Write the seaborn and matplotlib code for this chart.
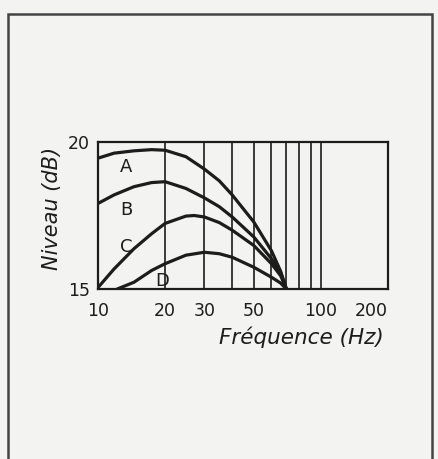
import pandas as pd
import matplotlib.pyplot as plt
import seaborn as sns
from matplotlib.patches import Rectangle

# values (Hz, dB)
freq_a = [10, 11.8, 14.5, 17.4, 20, 24.8, 30, 35, 40, 50, 60, 66, 70]
level_a = [19.45, 19.62, 19.70, 19.74, 19.72, 19.50, 19.08, 18.68, 18.20, 17.28, 16.30, 15.60, 15.0]

freq_b = [10, 11.8, 14.5, 17.4, 20, 24.8, 30, 35, 40, 50, 60, 66, 70]
level_b = [17.91, 18.20, 18.48, 18.62, 18.65, 18.42, 18.10, 17.80, 17.45, 16.77, 16.03, 15.55, 15.0]

freq_c = [10, 11.8, 14.5, 17.4, 20, 24.8, 27, 30, 35, 40, 50, 60, 66, 70]
level_c = [15.05, 15.68, 16.37, 16.88, 17.23, 17.48, 17.50, 17.45, 17.26, 17.00, 16.48, 15.86, 15.45, 15.0]

freq_d = [12.2, 14.5, 17.4, 20, 24.8, 30, 35, 40, 50, 60, 66, 70]
level_d = [15.0, 15.23, 15.63, 15.86, 16.15, 16.25, 16.20, 16.08, 15.74, 15.40, 15.20, 15.0]

curve_names = ['A', 'B', 'C', 'D']
label_freq = [12.5, 12.6, 12.5, 18.0]
label_level = [19.16, 17.68, 16.42, 15.28]

grid_freqs = [20, 30, 40, 50, 60, 70, 80, 90, 100]
xtick_vals = [10, 20, 30, 50, 100, 200]
ytick_vals = [15, 20]

ink = '#1c1c1c'
grid_ink = '#3c3c3c'
paper = '#f3f3f1'

sns.set_style('white')
plt.rcParams['font.family'] = ['DejaVu Sans']

fig = plt.figure(figsize=(4.38, 4.59), dpi=100)
fig.patch.set_facecolor(paper)
# outer box of the scanned page
fig.patches.append(Rectangle((8 / 438, -0.01), 424 / 438, 1 - 14 / 459 + 0.01,
                             transform=fig.transFigure, fill=False,
                             edgecolor='#444444', linewidth=1.8))

ax = fig.add_axes([98 / 438, 170 / 459, 290 / 438, 147 / 459])
ax.set_facecolor(paper)

frames = []
for name, f, lv in zip(curve_names, [freq_a, freq_b, freq_c, freq_d],
                       [level_a, level_b, level_c, level_d]):
    frames.append(pd.DataFrame({'freq': f, 'level': lv, 'curve': name}))
data = pd.concat(frames)

for g in grid_freqs:
    ax.axvline(g, color=grid_ink, linewidth=1.4, zorder=1)

sns.lineplot(data=data, x='freq', y='level', units='curve', estimator=None,
             color=ink, linewidth=2.3, ax=ax, zorder=3, sort=False)

for name, x, y in zip(curve_names, label_freq, label_level):
    ax.text(x, y, name, fontsize=13, color=ink, ha='left', va='center')

ax.set_xscale('log')
ax.set_xlim(10, 200)
ax.set_ylim(15, 20)
ax.set_xticks(xtick_vals)
ax.set_xticklabels([str(v) for v in xtick_vals])
ax.xaxis.set_minor_locator(plt.NullLocator())
ax.set_yticks(ytick_vals)
ax.set_yticklabels([str(v) for v in ytick_vals])
ax.tick_params(axis='both', length=0, labelsize=12.5, colors=ink)
ax.tick_params(axis='x', pad=9)
ax.tick_params(axis='y', pad=6)
ax.get_xticklabels()[-1].set_ha('right')
for s in ax.spines.values():
    s.set_visible(True)
    s.set_color(ink)
    s.set_linewidth(1.6)

ax.set_xlabel('')
ax.set_ylabel('Niveau (dB)', fontsize=15, style='italic', color=ink)
ax.yaxis.set_label_coords(-0.125, 0.55)
fig.text(301 / 438, 1 - 337 / 459, 'Fréquence (Hz)', fontsize=15.5,
         style='italic', color=ink, ha='center', va='center')

fig.savefig('out.png', dpi=100, facecolor=paper)
